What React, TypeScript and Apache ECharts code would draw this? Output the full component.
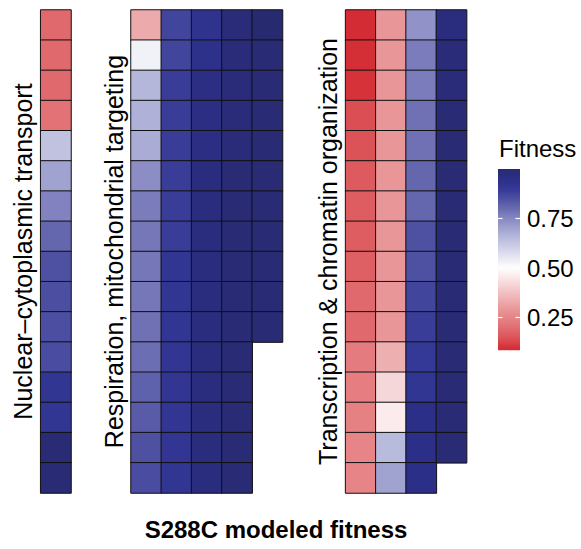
import React, { useEffect, useRef } from "react";
import * as echarts from "echarts";

// ---------- data ----------
const panelLabels = [
  "Nuclear–cytoplasmic transport",
  "Respiration, mitochondrial targeting",
  "Transcription & chromatin organization",
];
const rowNames = ["1", "2", "3", "4", "5", "6", "7", "8", "9", "10", "11", "12", "13", "14", "15", "16"];

// Panel 1: Nuclear–cytoplasmic transport (1 column, top to bottom)
const nuclearCol1 = [0.19, 0.19, 0.19, 0.21, 0.635, 0.7, 0.76, 0.81, 0.85, 0.855, 0.855, 0.86, 0.91, 0.91, 0.99, 0.99];

// Panel 2: Respiration, mitochondrial targeting (5 columns)
const respCol1 = [0.33, 0.53, 0.66, 0.67, 0.68, 0.74, 0.77, 0.78, 0.78, 0.78, 0.79, 0.795, 0.82, 0.83, 0.85, 0.86];
const respCol2 = [0.875, 0.875, 0.89, 0.89, 0.89, 0.89, 0.89, 0.89, 0.91, 0.91, 0.91, 0.915, 0.915, 0.915, 0.915, 0.91];
const respCol3 = [0.93, 0.94, 0.96, 0.96, 0.96, 0.97, 0.97, 0.97, 0.97, 0.97, 0.97, 0.97, 0.97, 0.97, 0.97, 0.97];
const respCol4 = [0.98, 0.98, 0.98, 0.98, 0.98, 0.99, 0.99, 0.99, 0.99, 0.99, 0.99, 0.99, 0.99, 0.99, 0.99, 0.99];
const respCol5 = [1.0, 0.99, 0.99, 0.99, 0.99, 0.99, 0.99, 0.99, 0.99, 0.99, 0.99];

// Panel 3: Transcription & chromatin organization (4 columns)
const transCol1 = [0.085, 0.09, 0.1, 0.14, 0.145, 0.16, 0.165, 0.165, 0.17, 0.19, 0.19, 0.23, 0.235, 0.24, 0.25, 0.25];
const transCol2 = [0.29, 0.29, 0.29, 0.29, 0.29, 0.29, 0.29, 0.29, 0.29, 0.29, 0.29, 0.34, 0.42, 0.46, 0.65, 0.7];
const transCol3 = [0.73, 0.77, 0.77, 0.79, 0.79, 0.81, 0.81, 0.85, 0.85, 0.875, 0.89, 0.9, 0.91, 0.95, 0.95, 0.95];
const transCol4 = [0.97, 0.98, 0.98, 0.99, 0.99, 0.99, 0.99, 0.99, 0.99, 0.99, 0.99, 0.99, 0.99, 0.99, 0.99];

const panels = [
  [nuclearCol1],
  [respCol1, respCol2, respCol3, respCol4, respCol5],
  [transCol1, transCol2, transCol3, transCol4],
];

const colorbarTicks = [0.25, 0.5, 0.75];
const chartTitle = "S288C modeled fitness";
const legendTitle = "Fitness";

// ---------- colour scale: evenly spaced stops from 0 to 1 (step 0.05) ----------
const scaleStops = [
  "#C8141E", "#CE1E28", "#D6323A", "#DC555A", "#E16E72",
  "#E68487", "#EA9B9D", "#EFB4B6", "#F4CDCF", "#FAE6E7",
  "#FFFFFF", "#E8E9F3", "#D0D2E8", "#B9BBDD", "#A0A2D0",
  "#8788C2", "#696BB1", "#4E51A2", "#343896", "#2C2F87",
  "#282A70",
];

function hexToRgb(h: string): number[] {
  const s = h.replace("#", "");
  return [0, 2, 4].map((i) => parseInt(s.slice(i, i + 2), 16));
}
function fitnessColor(v: number): string {
  const t = Math.max(0, Math.min(1, v)) * (scaleStops.length - 1);
  const i = Math.min(Math.floor(t), scaleStops.length - 2);
  const f = t - i;
  const a = hexToRgb(scaleStops[i]);
  const b = hexToRgb(scaleStops[i + 1]);
  return "rgb(" + a.map((c, k) => Math.round(c + (b[k] - c) * f)).join(",") + ")";
}

const FONT = "'Liberation Sans', Arial, Helvetica, sans-serif";

export default function App() {
  const ref = useRef<HTMLDivElement>(null);

  useEffect(() => {
    if (!ref.current) return;
    const chart = echarts.init(ref.current, undefined, { renderer: "svg" });

    const allValues = panels.flat(2);
    const fitMin = Math.min(...allValues);
    const fitMax = Math.max(...allValues);

    const NSTOP = 60;
    const barStops: { offset: number; color: string }[] = [];
    for (let i = 0; i <= NSTOP; i++) {
      const v = fitMax - ((fitMax - fitMin) * i) / NSTOP;
      barStops.push({ offset: i / NSTOP, color: fitnessColor(v) });
    }

    const gridGeom = [
      { left: 40.7, width: 30.3 },
      { left: 131, width: 151.5 },
      { left: 345.6, width: 121 },
    ];

    const grids: any[] = gridGeom.map((g) => ({ left: g.left, width: g.width, top: 10, height: 483 }));
    grids.push({ left: 498, width: 22, top: 169, height: 198 });

    const xAxes: any[] = panels.map((cols, i) => ({
      type: "category",
      gridIndex: i,
      data: cols.map((_, c) => String(c + 1)),
      show: false,
    }));
    xAxes.push({ type: "value", gridIndex: 3, min: 0, max: 1, show: false });

    const yAxes: any[] = panels.map((_, i) => ({
      type: "category",
      gridIndex: i,
      data: rowNames,
      inverse: true,
      axisLine: { show: false },
      axisTick: { show: false },
      axisLabel: { show: false },
      splitLine: { show: false },
      name: panelLabels[i],
      nameLocation: "middle",
      nameRotate: 90,
      nameGap: 5,
      nameTextStyle: { fontSize: 25, color: "#000", fontFamily: FONT },
    }));
    const tickStyle = {
      show: true,
      inside: true,
      length: 4.5,
      lineStyle: { color: "#ffffff", width: 1.2 },
      customValues: colorbarTicks,
    };
    yAxes.push({
      type: "value",
      gridIndex: 3,
      position: "left",
      min: 0,
      max: 1,
      z: 10,
      axisLine: { show: false },
      splitLine: { show: false },
      axisLabel: { show: false },
      axisTick: tickStyle,
    });
    yAxes.push({
      type: "value",
      gridIndex: 3,
      position: "right",
      min: 0,
      max: 1,
      z: 10,
      axisLine: { show: false },
      splitLine: { show: false },
      axisTick: tickStyle,
      axisLabel: {
        show: true,
        customValues: colorbarTicks,
        formatter: (v: number) => v.toFixed(2),
        fontSize: 24,
        color: "#000",
        fontFamily: FONT,
        margin: 7,
      },
    });

    const series: any[] = panels.map((cols, i) => {
      const data: number[][] = [];
      cols.forEach((col, c) => col.forEach((v, r) => data.push([c, r, v])));
      return {
        type: "heatmap",
        xAxisIndex: i,
        yAxisIndex: i,
        data,
        itemStyle: { borderColor: "#111111", borderWidth: 1 },
        emphasis: { disabled: true },
      };
    });
    series.push({
      type: "custom",
      xAxisIndex: 3,
      yAxisIndex: 3,
      silent: true,
      z: 1,
      data: [[fitMin, fitMax]],
      renderItem: (_p: any, api: any) => {
        const tl = api.coord([0, api.value(1)]);
        const br = api.coord([1, api.value(0)]);
        return {
          type: "rect",
          shape: { x: tl[0], y: tl[1], width: br[0] - tl[0], height: br[1] - tl[1] },
          style: { fill: new echarts.graphic.LinearGradient(0, 0, 0, 1, barStops) },
        };
      },
    });

    chart.setOption({
      animation: false,
      textStyle: { fontFamily: FONT },
      title: [
        {
          text: chartTitle,
          left: 276,
          top: 517,
          padding: 0,
          textAlign: "center",
          textStyle: { fontSize: 24, fontWeight: "bold", color: "#000", fontFamily: FONT },
        },
        {
          text: legendTitle,
          left: 499,
          top: 136,
          padding: 0,
          textStyle: { fontSize: 24, fontWeight: "normal", color: "#000", fontFamily: FONT },
        },
      ],
      grid: grids,
      xAxis: xAxes,
      yAxis: yAxes,
      visualMap: {
        type: "continuous",
        show: false,
        min: 0,
        max: 1,
        seriesIndex: [0, 1, 2],
        dimension: 2,
        inRange: { color: scaleStops },
      },
      series,
    });

    return () => chart.dispose();
  }, []);

  return (
    <div
      ref={ref}
      style={{ position: "absolute", left: 0, top: 0, width: 581, height: 549, background: "#fff" }}
    />
  );
}
